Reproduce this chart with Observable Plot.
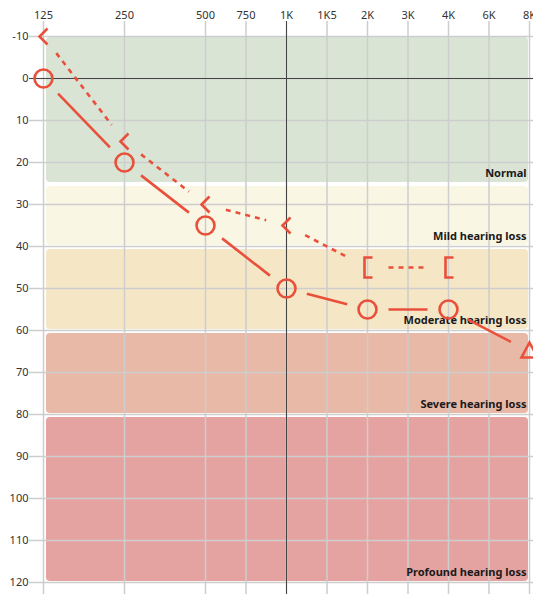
<!DOCTYPE html>
<html>
<head>
<meta charset="utf-8">
<script src="https://cdn.jsdelivr.net/npm/d3@7"></script>
<script src="https://cdn.jsdelivr.net/npm/@observablehq/plot@0.6"></script>
<style>
  html, body { margin: 0; padding: 0; background: #fff; }
  #chart svg { display: block; }
</style>
</head>
<body>
<div id="chart"></div>
<script>
// ---- data ----
const freqLabels = ["125", "250", "500", "750", "1K", "1K5", "2K", "3K", "4K", "6K", "8K"];
const freqPositions = [0, 1, 2, 2.5, 3, 3.5, 4, 4.5, 5, 5.5, 6]; // octave index of each frequency
const dbTicks = [-10, 0, 10, 20, 30, 40, 50, 60, 70, 80, 90, 100, 110, 120];

const bandNames = ["Normal", "Mild hearing loss", "Moderate hearing loss", "Severe hearing loss", "Profound hearing loss"];
const bandFrom = [-10, 25.5, 40.5, 60.5, 80.5];
const bandTo = [25, 40, 60, 80, 120];
const bandColors = ["#d9e4d4", "#faf6e4", "#f5e6c6", "#e8b9a6", "#e4a3a0"];

// air conduction (solid line)
const airFreqs = ["125", "250", "500", "1K", "2K", "4K", "8K"];
const airDb = [0, 20, 35, 50, 55, 55, 65];
const airSymbols = ["O", "O", "O", "O", "O", "O", "triangle"];

// bone conduction (dashed line)
const boneFreqs = ["125", "250", "500", "1K", "2K", "4K"];
const boneDb = [-10, 15, 30, 35, 45, 45];
const boneSymbols = ["<", "<", "<", "<", "[", "["];

// ---- setup ----
const pos = f => freqPositions[freqLabels.indexOf(f)];
const W = 533, H = 594;
const dims = {width: W, height: H, marginLeft: 43, marginRight: 4, marginTop: 36, marginBottom: 12};
const xOpt = {domain: [0, 6], axis: null};
const yOpt = {domain: [-10, 120], reverse: true, axis: null};
const RED = "#e9503b";

const probe = Plot.plot({...dims, x: xOpt, y: yOpt, marks: []});
const sx = probe.scale("x"), sy = probe.scale("y");

function segments(freqs, vals, gap) {
  const out = [];
  for (let i = 0; i < freqs.length - 1; i++) {
    const ax = sx.apply(pos(freqs[i])), ay = sy.apply(vals[i]);
    const bx = sx.apply(pos(freqs[i + 1])), by = sy.apply(vals[i + 1]);
    const dx = bx - ax, dy = by - ay, len = Math.hypot(dx, dy);
    const ux = dx / len, uy = dy / len;
    out.push({
      x1: sx.invert(ax + ux * gap), y1: sy.invert(ay + uy * gap),
      x2: sx.invert(bx - ux * gap), y2: sy.invert(by - uy * gap)
    });
  }
  return out;
}

const airPts = airFreqs.map((f, i) => ({x: pos(f), y: airDb[i], s: airSymbols[i]}));
const bonePts = boneFreqs.map((f, i) => ({x: pos(f), y: boneDb[i], s: boneSymbols[i]}));
const bands = bandNames.map((n, i) => ({name: n, y1: bandFrom[i], y2: bandTo[i], color: bandColors[i]}));

const symLeft = {draw(ctx) { ctx.moveTo(4, -8); ctx.lineTo(-4, 0); ctx.lineTo(4, 8); }};
const symBracket = {draw(ctx) { ctx.moveTo(5, -10); ctx.lineTo(-3, -10); ctx.lineTo(-3, 10); ctx.lineTo(5, 10); }};
const symTri = {draw(ctx) { ctx.moveTo(0, -9); ctx.lineTo(8, 6); ctx.lineTo(-8, 6); ctx.closePath(); }};

const plot = Plot.plot({
  ...dims,
  x: xOpt,
  y: yOpt,
  style: {fontFamily: "'Noto Sans', sans-serif", fontSize: "11px", background: "#fff", overflow: "hidden"},
  marks: [
    Plot.rect(bands, {x1: 0, x2: 6, y1: "y1", y2: "y2", fill: "color", rx: 4, insetLeft: 3, insetRight: 1, insetTop: 1, insetBottom: 1}),
    // grid
    Plot.ruleX(freqPositions, {stroke: "#cdcdcd", strokeWidth: 1.5, insetTop: -15, insetBottom: -12}),
    Plot.ruleY(dbTicks, {stroke: "#cdcdcd", strokeWidth: 1.5, insetLeft: -14, insetRight: -4}),
    // reference lines
    Plot.ruleY([0], {stroke: "#444", strokeWidth: 1, insetLeft: -14, insetRight: -4}),
    Plot.ruleX([pos("1K")], {stroke: "#444", strokeWidth: 1, insetTop: -15, insetBottom: -12}),
    // tick labels
    Plot.text(freqLabels, {x: (d, i) => freqPositions[i], frameAnchor: "top", dy: -18, lineAnchor: "bottom", text: d => d, fill: "#333", fontSize: 11}),
    Plot.text(dbTicks, {y: d => d, frameAnchor: "left", dx: -15, textAnchor: "end", text: d => String(d), fill: "#333", fontSize: 11}),
    // band labels
    Plot.text(bands, {x: 6, y: "y2", text: "name", textAnchor: "end", lineAnchor: "bottom", dx: -3, dy: -7, fontWeight: "bold", fill: "#1a1a1a", fontSize: 11}),
    // lines
    Plot.link(segments(airFreqs, airDb, 21), {x1: "x1", y1: "y1", x2: "x2", y2: "y2", stroke: RED, strokeWidth: 2.6}),
    Plot.link(segments(boneFreqs, boneDb, 21), {x1: "x1", y1: "y1", x2: "x2", y2: "y2", stroke: RED, strokeWidth: 2.6, strokeDasharray: "5,5"}),
    // markers
    Plot.dot(airPts.filter(d => d.s === "O"), {x: "x", y: "y", r: 9, stroke: RED, strokeWidth: 2.6, fill: "none"}),
    Plot.dot(airPts.filter(d => d.s === "triangle"), {x: "x", y: "y", symbol: symTri, stroke: RED, strokeWidth: 2.6, fill: "none"}),
    Plot.dot(bonePts.filter(d => d.s === "<"), {x: "x", y: "y", symbol: symLeft, stroke: RED, strokeWidth: 2.6, fill: "none"}),
    Plot.dot(bonePts.filter(d => d.s === "["), {x: "x", y: "y", symbol: symBracket, stroke: RED, strokeWidth: 2.6, fill: "none"})
  ]
});
document.getElementById("chart").appendChild(plot);
</script>
</body>
</html>
